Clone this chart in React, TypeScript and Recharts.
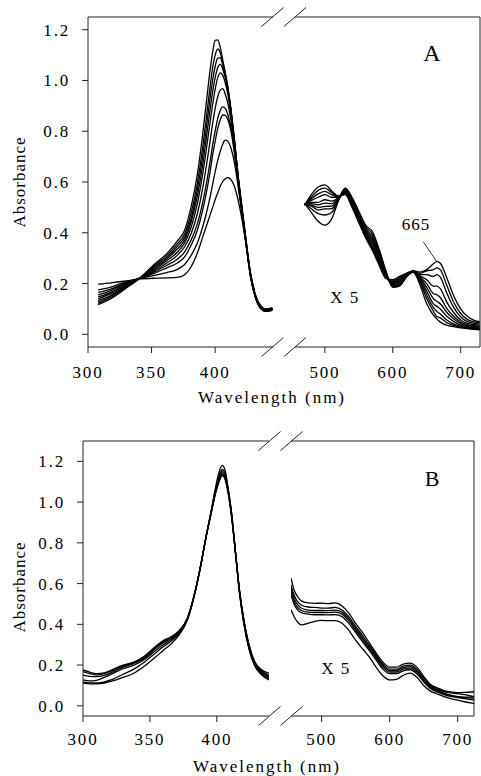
import { LineChart, Line, XAxis, YAxis, ReferenceLine } from 'recharts'

const FONT = '"Liberation Serif", "Times New Roman", serif'

// ---- panel A, Soret region (nm / absorbance) ----
const wlA1 = [308, 318, 328, 341, 352, 362, 370, 376, 381, 386, 390, 393, 396, 398, 400, 402, 404, 406, 408, 410, 412, 415, 418, 421, 424, 428, 432, 436, 440, 445]
const soretA = [
  [0.117, 0.14, 0.175, 0.222, 0.275, 0.318, 0.366, 0.41, 0.5, 0.63, 0.78, 0.91, 1.04, 1.11, 1.158, 1.16, 1.13, 1.08, 1.03, 0.975, 0.905, 0.775, 0.63, 0.505, 0.385, 0.235, 0.15, 0.112, 0.1, 0.105],
  [0.122, 0.145, 0.178, 0.222, 0.27, 0.31, 0.355, 0.395, 0.475, 0.595, 0.73, 0.85, 0.975, 1.05, 1.1, 1.124, 1.11, 1.07, 1.025, 0.97, 0.9, 0.77, 0.625, 0.5, 0.38, 0.232, 0.148, 0.11, 0.098, 0.103],
  [0.127, 0.15, 0.182, 0.222, 0.265, 0.303, 0.345, 0.383, 0.455, 0.57, 0.695, 0.81, 0.93, 1.0, 1.055, 1.088, 1.09, 1.06, 1.02, 0.965, 0.895, 0.768, 0.622, 0.497, 0.378, 0.23, 0.146, 0.108, 0.097, 0.102],
  [0.133, 0.154, 0.185, 0.222, 0.26, 0.297, 0.335, 0.372, 0.44, 0.545, 0.66, 0.77, 0.885, 0.955, 1.01, 1.05, 1.063, 1.045, 1.01, 0.96, 0.89, 0.765, 0.62, 0.495, 0.376, 0.228, 0.145, 0.107, 0.096, 0.101],
  [0.14, 0.16, 0.189, 0.222, 0.255, 0.29, 0.322, 0.36, 0.42, 0.515, 0.625, 0.725, 0.835, 0.905, 0.965, 1.01, 1.03, 1.02, 0.99, 0.945, 0.88, 0.76, 0.617, 0.493, 0.374, 0.226, 0.143, 0.105, 0.095, 0.1],
  [0.147, 0.165, 0.193, 0.222, 0.25, 0.281, 0.31, 0.345, 0.395, 0.475, 0.57, 0.66, 0.76, 0.83, 0.89, 0.935, 0.962, 0.968, 0.945, 0.91, 0.855, 0.745, 0.61, 0.49, 0.372, 0.225, 0.142, 0.104, 0.094, 0.099],
  [0.155, 0.172, 0.197, 0.222, 0.245, 0.272, 0.295, 0.325, 0.37, 0.435, 0.515, 0.59, 0.68, 0.745, 0.8, 0.85, 0.882, 0.896, 0.89, 0.865, 0.825, 0.73, 0.605, 0.487, 0.37, 0.224, 0.141, 0.103, 0.093, 0.098],
  [0.165, 0.178, 0.2, 0.222, 0.24, 0.262, 0.28, 0.305, 0.35, 0.41, 0.485, 0.555, 0.64, 0.705, 0.76, 0.81, 0.845, 0.864, 0.862, 0.845, 0.81, 0.72, 0.6, 0.485, 0.368, 0.223, 0.14, 0.102, 0.092, 0.097],
  [0.175, 0.186, 0.204, 0.22, 0.232, 0.243, 0.255, 0.275, 0.31, 0.36, 0.42, 0.475, 0.54, 0.59, 0.64, 0.685, 0.72, 0.75, 0.765, 0.76, 0.74, 0.68, 0.585, 0.48, 0.365, 0.222, 0.14, 0.1, 0.09, 0.095],
  [0.198, 0.203, 0.209, 0.218, 0.221, 0.222, 0.224, 0.235, 0.265, 0.32, 0.38, 0.425, 0.47, 0.5, 0.53, 0.557, 0.583, 0.602, 0.613, 0.617, 0.612, 0.585, 0.53, 0.455, 0.365, 0.235, 0.15, 0.102, 0.09, 0.094],
]

// ---- panel A, visible region (x5) ----
const wlA2 = [470, 480, 490, 500, 510, 520, 530, 540, 550, 560, 570, 580, 590, 600, 610, 620, 630, 640, 650, 660, 665, 670, 680, 690, 700, 710, 720, 728]
const visibleA = [
  [0.516, 0.48, 0.445, 0.43, 0.455, 0.525, 0.576, 0.54, 0.485, 0.43, 0.405, 0.335, 0.25, 0.185, 0.19, 0.225, 0.245, 0.195, 0.12, 0.075, 0.06, 0.048, 0.035, 0.03, 0.025, 0.022, 0.02, 0.018],
  [0.515, 0.495, 0.475, 0.47, 0.48, 0.53, 0.575, 0.535, 0.475, 0.423, 0.395, 0.328, 0.246, 0.188, 0.194, 0.227, 0.245, 0.205, 0.14, 0.09, 0.07, 0.065, 0.045, 0.035, 0.028, 0.024, 0.022, 0.02],
  [0.514, 0.505, 0.49, 0.494, 0.495, 0.533, 0.572, 0.53, 0.468, 0.416, 0.385, 0.32, 0.242, 0.191, 0.198, 0.229, 0.246, 0.212, 0.155, 0.105, 0.09, 0.08, 0.055, 0.04, 0.032, 0.027, 0.024, 0.022],
  [0.513, 0.51, 0.5, 0.504, 0.505, 0.535, 0.57, 0.527, 0.462, 0.41, 0.375, 0.312, 0.238, 0.194, 0.202, 0.231, 0.246, 0.218, 0.17, 0.12, 0.11, 0.1, 0.07, 0.05, 0.036, 0.03, 0.027, 0.025],
  [0.512, 0.515, 0.51, 0.517, 0.515, 0.537, 0.566, 0.523, 0.457, 0.404, 0.365, 0.304, 0.234, 0.197, 0.206, 0.233, 0.247, 0.222, 0.185, 0.14, 0.13, 0.12, 0.085, 0.06, 0.042, 0.034, 0.03, 0.028],
  [0.511, 0.52, 0.52, 0.53, 0.525, 0.538, 0.563, 0.519, 0.452, 0.398, 0.355, 0.296, 0.23, 0.2, 0.21, 0.235, 0.248, 0.226, 0.2, 0.16, 0.156, 0.145, 0.1, 0.07, 0.048, 0.038, 0.034, 0.031],
  [0.51, 0.527, 0.54, 0.55, 0.54, 0.54, 0.56, 0.515, 0.448, 0.393, 0.347, 0.29, 0.227, 0.203, 0.214, 0.236, 0.248, 0.23, 0.215, 0.19, 0.19, 0.18, 0.125, 0.085, 0.056, 0.043, 0.038, 0.035],
  [0.51, 0.533, 0.553, 0.563, 0.55, 0.541, 0.557, 0.51, 0.445, 0.388, 0.34, 0.284, 0.224, 0.206, 0.218, 0.237, 0.249, 0.235, 0.235, 0.228, 0.235, 0.225, 0.16, 0.105, 0.068, 0.05, 0.043, 0.04],
  [0.509, 0.54, 0.567, 0.576, 0.558, 0.543, 0.553, 0.505, 0.442, 0.384, 0.335, 0.278, 0.222, 0.21, 0.223, 0.239, 0.25, 0.24, 0.25, 0.255, 0.262, 0.255, 0.19, 0.125, 0.082, 0.058, 0.049, 0.045],
  [0.508, 0.55, 0.58, 0.589, 0.565, 0.545, 0.55, 0.5, 0.44, 0.38, 0.33, 0.272, 0.22, 0.215, 0.228, 0.24, 0.25, 0.245, 0.255, 0.278, 0.287, 0.28, 0.22, 0.15, 0.1, 0.07, 0.055, 0.05],
]

// ---- panel B, Soret region ----
const wlB1 = [300, 305, 310, 316, 322, 330, 338, 346, 354, 360, 366, 372, 378, 383, 388, 392, 396, 399, 402, 404, 406, 408, 411, 414, 417, 420, 424, 428, 433, 439]
const soretB = [
  [0.176, 0.165, 0.158, 0.162, 0.178, 0.2, 0.215, 0.245, 0.29, 0.32, 0.34, 0.37, 0.43, 0.54, 0.69, 0.83, 0.965, 1.07, 1.155, 1.18, 1.16, 1.09, 0.95, 0.75, 0.55, 0.41, 0.28, 0.2, 0.155, 0.127],
  [0.168, 0.158, 0.152, 0.158, 0.172, 0.195, 0.212, 0.24, 0.285, 0.315, 0.335, 0.368, 0.43, 0.54, 0.69, 0.83, 0.96, 1.06, 1.135, 1.16, 1.145, 1.08, 0.945, 0.75, 0.555, 0.415, 0.285, 0.205, 0.16, 0.135],
  [0.151, 0.145, 0.143, 0.15, 0.165, 0.19, 0.208, 0.235, 0.28, 0.31, 0.332, 0.365, 0.43, 0.54, 0.69, 0.83, 0.96, 1.055, 1.125, 1.15, 1.135, 1.075, 0.94, 0.75, 0.56, 0.42, 0.29, 0.21, 0.165, 0.14],
  [0.127, 0.122, 0.125, 0.14, 0.158, 0.182, 0.2, 0.228, 0.27, 0.3, 0.325, 0.362, 0.428, 0.54, 0.69, 0.83, 0.955, 1.05, 1.115, 1.14, 1.125, 1.07, 0.94, 0.75, 0.56, 0.425, 0.295, 0.215, 0.17, 0.145],
  [0.118, 0.113, 0.112, 0.118, 0.13, 0.155, 0.18, 0.215, 0.258, 0.29, 0.318, 0.358, 0.425, 0.538, 0.69, 0.83, 0.955, 1.045, 1.11, 1.135, 1.12, 1.065, 0.935, 0.75, 0.565, 0.43, 0.3, 0.22, 0.175, 0.15],
  [0.111, 0.108, 0.108, 0.112, 0.122, 0.14, 0.16, 0.195, 0.238, 0.272, 0.305, 0.35, 0.42, 0.535, 0.69, 0.83, 0.95, 1.04, 1.105, 1.13, 1.115, 1.06, 0.93, 0.75, 0.565, 0.43, 0.3, 0.22, 0.18, 0.16],
]

// ---- panel B, visible region (x5) ----
const wlB2 = [455, 460, 465, 470, 480, 490, 500, 510, 520, 530, 540, 550, 560, 570, 580, 590, 600, 610, 620, 630, 640, 650, 660, 670, 680, 690, 700, 710, 724]
const visibleB = [
  [0.627, 0.565, 0.535, 0.515, 0.505, 0.503, 0.504, 0.502, 0.505, 0.49, 0.455, 0.405, 0.36, 0.31, 0.26, 0.215, 0.19, 0.19, 0.205, 0.21, 0.19, 0.145, 0.105, 0.088, 0.075, 0.068, 0.065, 0.066, 0.069],
  [0.594, 0.54, 0.51, 0.495, 0.485, 0.483, 0.48, 0.48, 0.483, 0.47, 0.438, 0.39, 0.345, 0.298, 0.25, 0.205, 0.18, 0.18, 0.195, 0.2, 0.18, 0.138, 0.1, 0.083, 0.07, 0.063, 0.06, 0.055, 0.045],
  [0.578, 0.525, 0.495, 0.48, 0.47, 0.468, 0.468, 0.467, 0.47, 0.46, 0.428, 0.38, 0.335, 0.29, 0.242, 0.198, 0.173, 0.173, 0.188, 0.192, 0.172, 0.13, 0.095, 0.078, 0.063, 0.052, 0.045, 0.04, 0.037],
  [0.561, 0.51, 0.482, 0.468, 0.46, 0.458, 0.458, 0.457, 0.46, 0.45, 0.418, 0.37, 0.325, 0.282, 0.235, 0.19, 0.166, 0.166, 0.18, 0.185, 0.165, 0.125, 0.09, 0.073, 0.06, 0.05, 0.045, 0.042, 0.045],
  [0.545, 0.495, 0.47, 0.457, 0.45, 0.447, 0.447, 0.446, 0.448, 0.438, 0.405, 0.36, 0.315, 0.272, 0.225, 0.18, 0.158, 0.158, 0.172, 0.177, 0.157, 0.118, 0.085, 0.068, 0.055, 0.046, 0.04, 0.035, 0.028],
  [0.471, 0.435, 0.41, 0.397, 0.405, 0.415, 0.419, 0.418, 0.418, 0.405, 0.37, 0.322, 0.28, 0.24, 0.19, 0.148, 0.127, 0.13, 0.15, 0.16, 0.14, 0.1, 0.072, 0.058, 0.045, 0.035, 0.028, 0.02, 0.012],
]

const ticksLeft = [300, 350, 400]
const ticksRight = [500, 600, 700]
const ticksY = [0, 0.2, 0.4, 0.6, 0.8, 1.0, 1.2]

const W = 481
const X_AXIS_H = 40
const tickStyle = { fill: '#000', fontSize: 17, fontFamily: FONT, letterSpacing: 1.8 }

interface SegmentProps {
  top: number
  height: number
  plotLeft: number
  plotRight: number
  plotTop: number
  plotBottom: number
  xDomain: [number, number]
  xTicks: number[]
  yDomain: [number, number]
  wl: number[]
  curves: number[][]
  showY?: boolean
  rightBorder?: boolean
  tickGap: number
}

function Segment(p: SegmentProps) {
  const data = p.wl.map((w, i) => {
    const row: Record<string, number> = { wl: w }
    p.curves.forEach((c, k) => {
      row['s' + k] = c[i]
    })
    return row
  })
  const margin = {
    top: p.plotTop,
    right: W - p.plotRight,
    bottom: p.height - p.plotBottom - X_AXIS_H,
    left: p.showY ? 0 : p.plotLeft,
  }
  return (
    <div style={{ position: 'absolute', left: 0, top: p.top }}>
      <LineChart width={W} height={p.height} data={data} margin={margin}>
        <XAxis
          type="number"
          dataKey="wl"
          domain={p.xDomain}
          ticks={p.xTicks}
          allowDataOverflow
          height={X_AXIS_H}
          tickSize={6}
          tickMargin={p.tickGap}
          axisLine={{ stroke: '#222' }}
          tickLine={{ stroke: '#222' }}
          tick={tickStyle}
        />
        <YAxis
          type="number"
          domain={p.yDomain}
          ticks={ticksY}
          allowDataOverflow
          hide={!p.showY}
          width={p.plotLeft}
          tickSize={6}
          tickMargin={12}
          axisLine={{ stroke: '#222' }}
          tickLine={{ stroke: '#222' }}
          tick={tickStyle}
          tickFormatter={(v: number) => v.toFixed(1)}
        />
        <ReferenceLine y={p.yDomain[1]} stroke="#222" />
        {p.rightBorder && <ReferenceLine x={p.xDomain[1]} stroke="#222" />}
        {p.curves.map((_, k) => (
          <Line
            key={k}
            dataKey={'s' + k}
            type="monotone"
            stroke="#000"
            strokeWidth={1.3}
            dot={false}
            isAnimationActive={false}
          />
        ))}
      </LineChart>
    </div>
  )
}

function BreakMarks({ y, x1, x2 }: { y: number; x1: number; x2: number }) {
  return (
    <g stroke="#222" strokeWidth={1}>
      <line x1={x1 - 11} y1={y + 9.5} x2={x1 + 11} y2={y - 9.5} />
      <line x1={x2 - 11} y1={y + 9.5} x2={x2 + 11} y2={y - 9.5} />
    </g>
  )
}

export default function App() {
  return (
    <div style={{ position: 'absolute', left: 0, top: 0, width: W, height: 776, background: '#fff', fontFamily: FONT }}>
      {/* panel A */}
      <Segment top={0} height={400} plotLeft={88} plotRight={273} plotTop={17} plotBottom={347}
        xDomain={[300, 445.5]} xTicks={ticksLeft} yDomain={[-0.05, 1.25]} wl={wlA1} curves={soretA} showY tickGap={13} />
      <Segment top={0} height={400} plotLeft={295} plotRight={480} plotTop={17} plotBottom={347}
        xDomain={[456, 728.5]} xTicks={ticksRight} yDomain={[-0.05, 1.25]} wl={wlA2} curves={visibleA} rightBorder tickGap={13} />
      {/* panel B */}
      <Segment top={400} height={376} plotLeft={83} plotRight={269} plotTop={41} plotBottom={316}
        xDomain={[300, 439]} xTicks={ticksLeft} yDomain={[-0.05, 1.3]} wl={wlB1} curves={soretB} showY tickGap={11} />
      <Segment top={400} height={376} plotLeft={291} plotRight={474} plotTop={41} plotBottom={316}
        xDomain={[455, 724]} xTicks={ticksRight} yDomain={[-0.05, 1.3]} wl={wlB2} curves={visibleB} rightBorder tickGap={11} />

      <svg width={W} height={776} style={{ position: 'absolute', left: 0, top: 0, pointerEvents: 'none' }}
        fontFamily="Liberation Serif" fill="#000">
        <BreakMarks y={17} x1={272.5} x2={295} />
        <BreakMarks y={347} x1={272.5} x2={295} />
        <BreakMarks y={441} x1={269.5} x2={291.5} />
        <BreakMarks y={716} x1={269.5} x2={291.5} />

        <text x={25} y={182} transform="rotate(-90 25 182)" textAnchor="middle" fontSize={17} letterSpacing={1}>Absorbance</text>
        <text x={272} y={403} textAnchor="middle" fontSize={17} letterSpacing={2}>Wavelength (nm)</text>
        <text x={432} y={61} textAnchor="middle" fontSize={24}>A</text>
        <text x={345} y={303} textAnchor="middle" fontSize={17} letterSpacing={1.5}>X 5</text>
        <text x={416} y={230} textAnchor="middle" fontSize={17} letterSpacing={1}>665</text>
        <line x1={423.3} y1={241.7} x2={436.7} y2={261.7} stroke="#000" strokeWidth={0.8} />

        <text x={25} y={587} transform="rotate(-90 25 587)" textAnchor="middle" fontSize={17} letterSpacing={1}>Absorbance</text>
        <text x={267} y={772} textAnchor="middle" fontSize={17} letterSpacing={2}>Wavelength (nm)</text>
        <text x={432} y={486} textAnchor="middle" fontSize={22}>B</text>
        <text x={336} y={674} textAnchor="middle" fontSize={17} letterSpacing={1.5}>X 5</text>
      </svg>
    </div>
  )
}
